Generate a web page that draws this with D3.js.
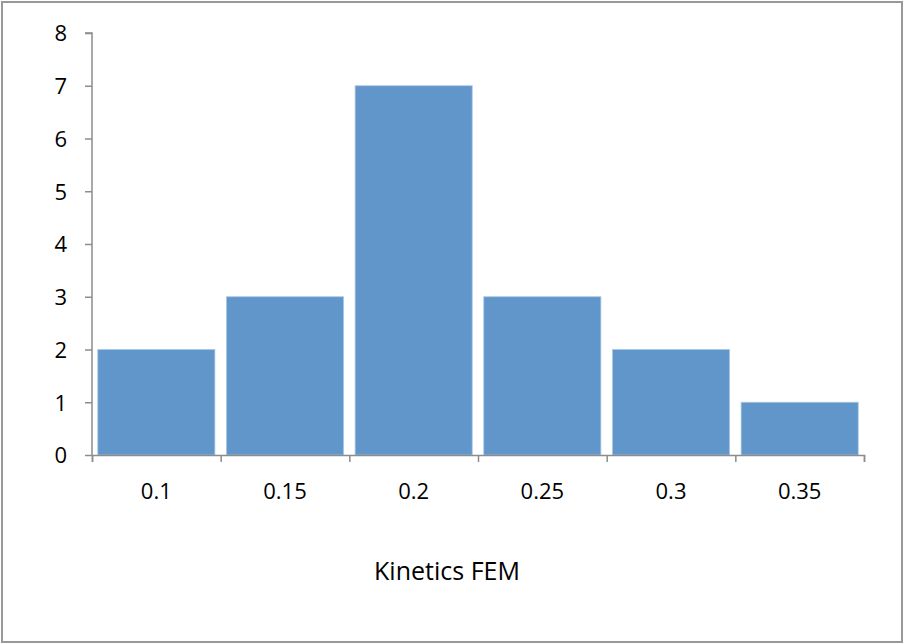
<!DOCTYPE html>
<html><head><meta charset="utf-8">
<script src="https://cdn.jsdelivr.net/npm/d3@7"></script>
<style>body{margin:0;background:#fff}svg{display:block}</style>
</head><body><svg id="c" width="904" height="644"></svg>
<script>
const categories = ["0.1","0.15","0.2","0.25","0.3","0.35"];
const counts = [2,3,7,3,2,1];
const yTicks = [0,1,2,3,4,5,6,7,8];
const xTitle = "Kinetics FEM";

(function(){
const svg = d3.select("#c");
const font = "'Open Sans', 'Liberation Sans', sans-serif";
svg.append("rect").attr("x",2).attr("y",2).attr("width",900).attr("height",640)
  .attr("fill","#fff").attr("stroke","#999").attr("stroke-width",2);

const pl=92, pr=864, pt=33, pb=455;
const x = d3.scaleBand().domain(categories).range([pl,pr]).paddingInner(0.09).paddingOuter(0.045);
const y = d3.scaleLinear().domain([0,8]).range([pb,pt]);

svg.append("g").selectAll("rect").data(counts).join("rect")
  .attr("x",(d,i)=>x(categories[i])).attr("width",x.bandwidth())
  .attr("y",d=>y(d)).attr("height",d=>pb-y(d))
  .attr("fill","#6096c9").attr("stroke","#a8c6e6").attr("stroke-width",0.8);

const yAxis = svg.append("g").attr("transform",`translate(${pl},0)`)
  .call(d3.axisLeft(y).tickValues(yTicks).tickSize(7).tickPadding(18).tickFormat(d3.format("d")));
yAxis.select(".domain").attr("stroke","#8c8c8c").attr("stroke-width",1.5).attr("d",`M-7,${pt}H0V${pb}`);
yAxis.selectAll(".tick line").attr("stroke","#8c8c8c").attr("stroke-width",1.5);
yAxis.selectAll("text").attr("font-family",font).attr("font-size",22).attr("fill","#000").attr("dy","0.36em");

const xb = d3.scaleLinear().domain([0,categories.length]).range([pl,pr]);
const xAxis = svg.append("g").attr("transform",`translate(0,${pb})`)
  .call(d3.axisBottom(xb).tickValues(d3.range(0,categories.length+1)).tickSize(7).tickFormat(""));
xAxis.select(".domain").attr("stroke","#8c8c8c").attr("stroke-width",1.5);
xAxis.selectAll(".tick line").attr("stroke","#8c8c8c").attr("stroke-width",1.5);

svg.append("g").selectAll("text").data(categories).join("text")
  .attr("x",d=>xb(categories.indexOf(d)+0.5)).attr("y",499)
  .attr("text-anchor","middle").attr("font-family",font).attr("font-size",22).attr("fill","#000")
  .text(d=>d);

svg.append("text").attr("x",447).attr("y",580).attr("text-anchor","middle")
  .attr("font-family",font).attr("font-size",25).attr("fill","#000").text(xTitle);
})();
</script></body></html>
